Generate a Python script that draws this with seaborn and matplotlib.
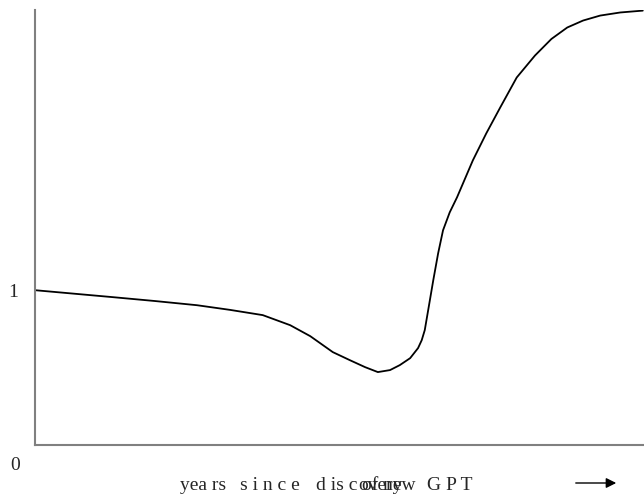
import matplotlib
matplotlib.use("Agg")
import matplotlib.pyplot as plt
import seaborn as sns
import pandas as pd

# Data (x: years since discovery, arbitrary 0-100; y: output level)
years = [0.0, 12.8, 19.7, 26.6, 32.0, 37.4, 41.9, 45.2, 48.9, 51.7, 54.2, 56.3,
         58.3, 59.9, 61.6, 62.9, 63.5, 64.0, 64.7, 65.4, 66.2, 67.0, 68.1, 69.3,
         71.9, 74.1, 76.4, 79.1, 82.1, 84.8, 87.4, 90.0, 92.8, 96.1, 99.8]
output = [1.00, 0.955, 0.930, 0.903, 0.873, 0.839, 0.774, 0.703, 0.600, 0.548,
          0.503, 0.471, 0.484, 0.516, 0.561, 0.626, 0.677, 0.742, 0.903, 1.065,
          1.239, 1.387, 1.503, 1.600, 1.839, 2.013, 2.181, 2.374, 2.516, 2.623,
          2.697, 2.742, 2.774, 2.794, 2.806]
ytick_vals = [1]
ytick_labels = ["1"]
origin_label = "0"

sns.set_style("white")
plt.rcParams['font.family'] = ['Liberation Serif', 'DejaVu Serif']

df = pd.DataFrame({"years": years, "output": output})

W, H = 644, 497
fig = plt.figure(figsize=(W / 100, H / 100), dpi=100)
ax = fig.add_axes([35 / W, (H - 445) / H, 609 / W, 435 / H])

sns.lineplot(data=df, x="years", y="output", ax=ax, color="black",
             linewidth=1.3, sort=False, estimator=None)

ax.set_xlim(0, 100)
ax.set_ylim(0, 2.81)
ax.set_xticks([])
ax.set_yticks(ytick_vals)
ax.set_yticklabels(ytick_labels, fontsize=14)
ax.tick_params(axis="y", length=0, pad=12)
ax.set_xlabel("")
ax.set_ylabel("")

for s in ["top", "right"]:
    ax.spines[s].set_visible(False)
for s in ["left", "bottom"]:
    ax.spines[s].set_color("#808080")
    ax.spines[s].set_linewidth(1.5)

fs = 14
def ftext(px, py, s, **kw):
    fig.text(px / W, 1 - py / H, s, fontsize=fs, **kw)

ftext(15, 466, origin_label, ha="center", va="center")

# x label, reproduced in pieces as in the reference (spaced letters, overlapping words)
ftext(180, 490, "yea rs", ha="left", va="baseline")
ftext(240, 490, "s i n c e", ha="left", va="baseline")
ftext(316, 490, "d is c", ha="left", va="baseline")
ftext(358, 490, "overy", ha="left", va="baseline")
ftext(362, 490, "of new", ha="left", va="baseline")
ftext(427, 490, "G P T", ha="left", va="baseline")

fig.add_artist(matplotlib.patches.FancyArrowPatch(
    (573 / W, 1 - 483 / H), (619 / W, 1 - 483 / H),
    transform=fig.transFigure, arrowstyle="-|>,head_length=6,head_width=3",
    color="black", linewidth=1.0, mutation_scale=1))

fig.savefig("out.png", dpi=100)
